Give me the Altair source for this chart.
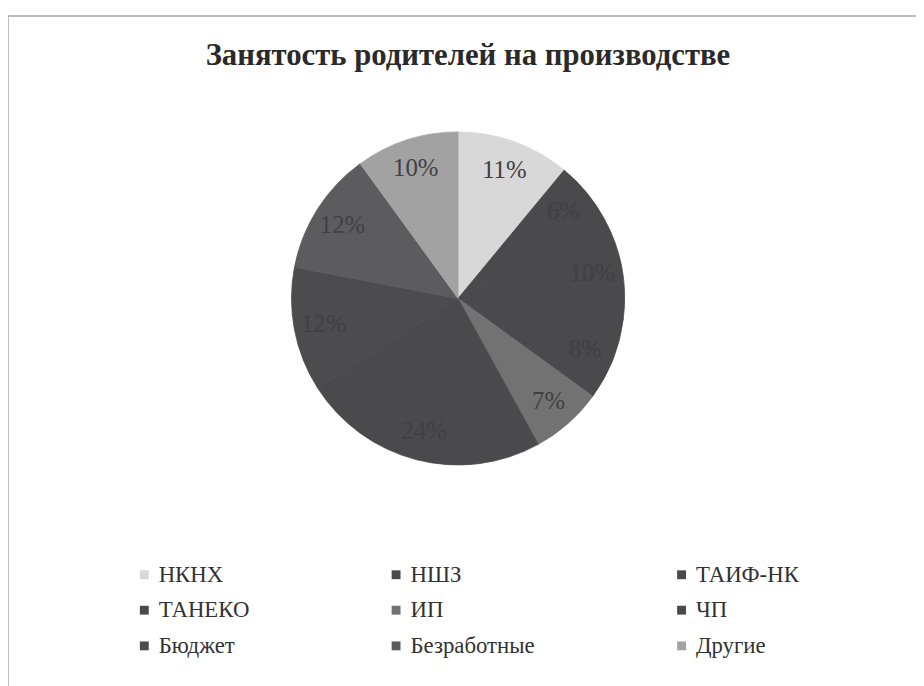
import altair as alt
import pandas as pd

title_text = "Занятость родителей на производстве"
categories = ["НКНХ", "НШЗ", "ТАИФ-НК", "ТАНЕКО", "ИП", "ЧП", "Бюджет", "Безработные", "Другие"]
values = [11, 6, 10, 8, 7, 24, 12, 12, 10]
colors = ["#d8d8d8", "#4a494c", "#4a494c", "#4a494c", "#727272", "#4a494c", "#4c4b4e", "#5c5c5e", "#a2a2a2"]

SERIF = "'Liberation Serif', 'Times New Roman', 'DejaVu Serif', serif"

df = pd.DataFrame({
    "cat": categories,
    "value": values,
    "idx": list(range(len(categories))),
    "label": [f"{v}%" for v in values],
})

color_scale = alt.Scale(domain=categories, range=colors)

base = alt.Chart(df).encode(
    theta=alt.Theta("value:Q", stack=True),
    order=alt.Order("idx:Q", sort="ascending"),
)

pie = base.mark_arc(outerRadius=168, strokeWidth=0.8).encode(
    color=alt.Color(
        "cat:N",
        scale=color_scale,
        sort=categories,
        legend=alt.Legend(
            title=None,
            orient="none",
            legendX=126,
            legendY=557,
            direction="horizontal",
            columns=3,
            columnPadding=136,
            rowPadding=12,
            symbolType="square",
            symbolSize=80,
            symbolStrokeWidth=0,
            labelFont=SERIF,
            labelFontSize=23,
            labelColor="#333333",
            labelOffset=3,
        ),
    ),
    stroke=alt.Stroke("cat:N", scale=color_scale, legend=None),
)

labels = base.mark_text(
    radius=138,
    font=SERIF,
    fontSize=25,
    color="#404042",
).encode(text="label:N")

title = alt.Chart(pd.DataFrame({"t": [title_text]})).mark_text(
    font=SERIF,
    fontSize=31,
    fontWeight="bold",
    color="#2a2a2a",
    align="center",
    baseline="alphabetic",
).encode(text="t:N", x=alt.value(464), y=alt.value(55))

frame = alt.Chart(pd.DataFrame({"a": [0]})).mark_rect(
    fill=None, stroke="#a8a8a8", strokeWidth=1.5
).encode(
    x=alt.value(0), x2=alt.value(925),
    y=alt.value(5), y2=alt.value(690),
)

chart = alt.layer(frame, pie, labels, title).properties(
    width=908,
    height=580,
    padding={"left": 0, "top": 0, "right": 8, "bottom": 100},
    autosize=alt.AutoSizeParams(type="none"),
    background="white",
).configure_view(strokeWidth=0, stroke="transparent")

chart.save("out.html", embed_options={"renderer": "svg", "actions": False})
